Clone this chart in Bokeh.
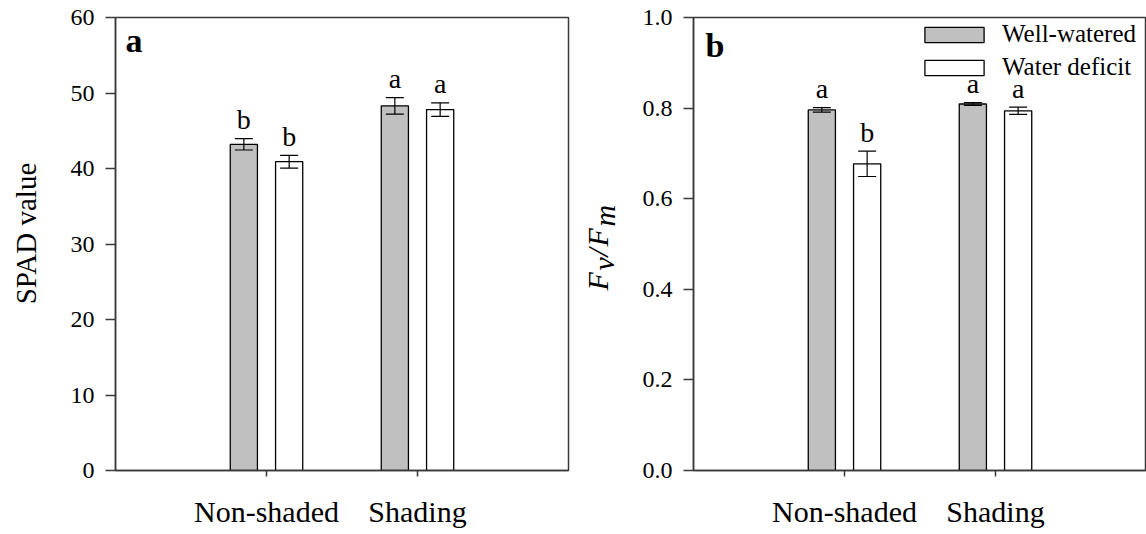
import numpy as np
from bokeh.plotting import figure
from bokeh.layouts import row
from bokeh.models import (ColumnDataSource, Whisker, TeeHead, Label, Legend, LegendItem,
                          FixedTicker, NumeralTickFormatter, Range1d)
from bokeh.core.properties import value
from bokeh.embed import file_html
from bokeh.resources import INLINE

# ---------------- data ----------------
categories = ["Non-shaded", "Shading"]
series = ["Well-watered", "Water deficit"]

spad_ww = [43.2, 48.3]
spad_ww_err = [0.75, 1.1]
spad_wd = [40.9, 47.8]
spad_wd_err = [0.85, 0.9]
spad_ww_letters = ["b", "a"]
spad_wd_letters = ["b", "a"]

fvfm_ww = [0.796, 0.809]
fvfm_ww_err = [0.005, 0.003]
fvfm_wd = [0.677, 0.794]
fvfm_wd_err = [0.028, 0.008]
fvfm_ww_letters = ["a", "a"]
fvfm_wd_letters = ["b", "a"]

spad_ticks = [0, 10, 20, 30, 40, 50, 60]
fvfm_ticks = [0.0, 0.2, 0.4, 0.6, 0.8, 1.0]

# ---------------- style ----------------
FONT = "Liberation Serif"
AX = "#3a3a3a"
GRAY = "#c0c0c0"
FRAME_W = 453
FRAME_H = 453
H = 534
TOP = 17
BOTTOM = TOP + FRAME_H
X_MAX = 3.0
OFFSET = 0.15
BAR_W = 0.18


def make_panel(width, left, right, y_max, ticks, fmt, ww, ww_err, wd, wd_err,
               ww_let, wd_let, panel_letter, letter_xy):
    p = figure(width=width, height=H, x_range=Range1d(0, X_MAX), y_range=Range1d(0, y_max),
               output_backend="svg", toolbar_location=None,
               min_border_left=left, min_border_right=right,
               min_border_top=TOP, min_border_bottom=H - BOTTOM)
    p.grid.visible = False
    p.outline_line_color = AX
    p.outline_line_width = 1.5
    p.background_fill_color = "white"
    p.border_fill_color = "white"

    xs = np.arange(1, len(categories) + 1, dtype=float)
    renderers = []
    for vals, errs, lets, fill, sign in ((ww, ww_err, ww_let, GRAY, -1),
                                         (wd, wd_err, wd_let, "white", 1)):
        x = xs + sign * OFFSET
        v = np.array(vals)
        e = np.array(errs)
        src = ColumnDataSource(dict(x=x, top=v, upper=v + e, lower=v - e, let=lets))
        r = p.vbar(x="x", top="top", width=BAR_W, source=src, fill_color=fill,
                   line_color="black", line_width=1.3)
        renderers.append(r)
        w = Whisker(base="x", upper="upper", lower="lower", source=src,
                    line_color="black", line_width=1.2, level="annotation",
                    upper_head=TeeHead(size=18, line_color="black", line_width=1.2),
                    lower_head=TeeHead(size=18, line_color="black", line_width=1.2))
        p.add_layout(w)
        p.text(x="x", y="upper", text="let", source=src, text_align="center",
               text_baseline="alphabetic", y_offset=-19, text_font=value(FONT),
               text_font_size="28px", text_color="black")

    # x axis
    p.xaxis.ticker = FixedTicker(ticks=list(xs))
    p.xaxis.major_label_overrides = {int(x): c for x, c in zip(xs, categories)}
    p.xaxis.major_tick_out = 6
    p.xaxis.major_tick_in = 0
    p.xaxis.minor_tick_out = 0
    p.xaxis.minor_tick_in = 0
    p.xaxis.major_label_standoff = 18
    p.xaxis.major_label_text_font = FONT
    p.xaxis.major_label_text_font_size = "30px"
    p.xaxis.major_label_text_color = "black"

    # y axis
    p.yaxis.ticker = FixedTicker(ticks=ticks)
    p.yaxis.formatter = NumeralTickFormatter(format=fmt)
    p.yaxis.major_tick_out = 10
    p.yaxis.major_tick_in = 0
    p.yaxis.minor_tick_out = 0
    p.yaxis.minor_tick_in = 0
    p.yaxis.major_label_standoff = 11
    p.yaxis.major_label_text_font = FONT
    p.yaxis.major_label_text_font_size = "24px"
    p.yaxis.major_label_text_color = "black"

    for ax in (p.xaxis, p.yaxis):
        ax.axis_line_color = AX
        ax.axis_line_width = 1.5
        ax.major_tick_line_color = AX
        ax.major_tick_line_width = 1.5

    lx, ly = letter_xy
    p.add_layout(Label(x=lx, y=ly, text=panel_letter, text_font=FONT,
                       text_font_style="bold", text_font_size="34px",
                       text_baseline="alphabetic", text_color="black"))
    return p, renderers


def title_strip(width):
    # the row aligns this strip's frame with the panels' frames (TOP..BOTTOM),
    # so an inverted y range makes its y values equal to page pixels
    t = figure(width=width, height=H, x_range=Range1d(0, width),
               y_range=Range1d(BOTTOM, TOP),
               output_backend="svg", toolbar_location=None,
               x_axis_type=None, y_axis_type=None, min_border=0)
    t.min_border_left = t.min_border_right = 0
    t.min_border_top = TOP
    t.min_border_bottom = H - BOTTOM
    t.grid.visible = False
    t.outline_line_color = None
    t.border_fill_color = "white"
    t.background_fill_color = "white"
    return t


# title strip for panel a ("SPAD value")
ta = title_strip(45)
ta.text(x=[25], y=[233], text=["SPAD value"], angle=np.pi / 2,
        text_align="center", text_baseline="alphabetic", text_font=value(FONT),
        text_font_size="29px", text_color="black")

# panel a
pa, _ = make_panel(528, 70, 5, 60, spad_ticks, "0",
                   spad_ww, spad_ww_err, spad_wd, spad_wd_err,
                   spad_ww_letters, spad_wd_letters, "a", (0.066, 57.0))

# title strip for panel b (Fv/Fm, italic with lowered v and m)
tb = title_strip(55)
pieces = ["F", "v", "/", "F", "m"]
piece_start = [290, 270, 256, 246, 226]        # page y where each piece starts
piece_base = [24, 29.5, 24, 24, 30.5]          # x inside the strip
tb.text(x=piece_base, y=piece_start, text=pieces, angle=np.pi / 2,
        text_align="left", text_baseline="alphabetic", text_font=value(FONT),
        text_font_style="italic", text_font_size="30px", text_color="black")

# panel b
pb, rb = make_panel(518, 65, 0, 1.0, fvfm_ticks, "0.0",
                    fvfm_ww, fvfm_ww_err, fvfm_wd, fvfm_wd_err,
                    fvfm_ww_letters, fvfm_wd_letters, "b", (0.08, 0.939))

legend = Legend(items=[LegendItem(label=series[0], renderers=[rb[0]]),
                       LegendItem(label=series[1], renderers=[rb[1]])],
                location=(224, 389), margin=0, padding=0, spacing=5,
                glyph_width=74, glyph_height=19, label_standoff=11,
                label_text_font=FONT, label_text_font_size="25px",
                label_text_color="black",
                border_line_color=None, background_fill_alpha=0)
pb.add_layout(legend)

layout = row(ta, pa, tb, pb)
open("out.html", "w").write(file_html(layout, INLINE))
